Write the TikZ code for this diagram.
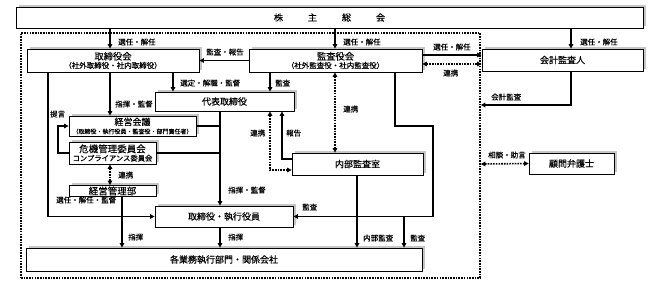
\documentclass[tikz,border=0pt]{standalone}
\usepackage{fontspec}
\setmainfont{Noto Sans CJK JP}[FakeBold=0.35]
\usetikzlibrary{arrows.meta,shadows}
\begin{document}
\begin{tikzpicture}[x=1pt,y=-1pt,
  >={Triangle[length=4.5pt,width=4.5pt]},
  box/.style={draw=black, line width=0.8pt, fill=white, inner sep=0pt, align=center,
    font=\fontsize{9}{10}\selectfont,
    drop shadow={shadow xshift=2.5pt, shadow yshift=2.5pt, fill=gray!45, opacity=1}},
  lab/.style={font=\fontsize{7.5}{8}\selectfont, inner sep=0pt, anchor=west},
  conn/.style={line width=1.6pt},
  arr/.style={conn, ->},
  dots/.style={line width=1.6pt, dash pattern=on 1.6pt off 1.1pt}
]
\useasboundingbox (0,0) rectangle (660,284);

% dotted frame
\node[draw, dots, minimum width=459pt, minimum height=245pt, inner sep=0pt] (frame) at (250.5,155.5) {};

% boxes
\node[box, minimum width=627pt, minimum height=21pt] (kabu) at (329.5,17.5)
  {株\hspace{25pt}主\hspace{25pt}総\hspace{25pt}会};
\node[box, minimum width=172pt, minimum height=23pt] (tori) at (113,60.5)
  {\fontsize{9.3}{10}\selectfont 取締役会\\[-1.5pt]{\fontsize{7.5}{8}\selectfont （社外取締役・社内取締役）}};
\node[box, minimum width=173pt, minimum height=23pt] (kansa) at (335.5,60.5)
  {\fontsize{9.3}{10}\selectfont 監査役会\\[-1.5pt]{\fontsize{7.5}{8}\selectfont （社外監査役・社内監査役）}};
\node[box, minimum width=161pt, minimum height=22pt] (kaikei) at (562.5,60) {会計監査人};
\node[box, minimum width=139pt, minimum height=19pt] (daihyo) at (224.5,101.5) {代表取締役};
\node[box, minimum width=127pt, minimum height=20pt] (keiei) at (132.5,126)
  {経営会議\\[-1.5pt]{\fontsize{6}{7}\selectfont （取締役・執行役員・監査役・部門責任者）}};
\node[box, minimum width=87pt, minimum height=22pt] (kiki) at (112.5,153)
  {\fontsize{9.5}{10}\selectfont 危機管理委員会\\[-1.5pt]{\fontsize{7.3}{8}\selectfont コンプライアンス委員会}};
\node[box, minimum width=87pt, minimum height=11pt] (kanri) at (112.5,191) {\fontsize{9.5}{10}\selectfont 経営管理部};
\node[box, minimum width=131pt, minimum height=22pt] (naibu) at (357.5,164) {内部監査室};
\node[box, minimum width=85pt, minimum height=21pt] (komon) at (571.5,163.5) {顧問弁護士};
\node[box, minimum width=138pt, minimum height=21pt] (shikko) at (224,216.5) {取締役・執行役員};
\node[box, minimum width=396pt, minimum height=23pt] (kaku) at (224,259.5) {各業務執行部門・関係会社};

% shareholders
\draw[arr] (kabu.south -| 110,0) -- (tori.north -| 110,0);
\node[lab] (l1) at (118,42) {選任・解任};
\draw[arr] (kabu.south -| 335,0) -- (kansa.north -| 335,0);
\node[lab] (l2) at (343,42) {選任・解任};
\draw[arr] (kabu.south -| 571,0) -- (kaikei.north -| 571,0);
\node[lab] (l3) at (580,42) {選任・解任};

% audit board relations
\draw[arr] (kansa.west) -- (tori.east);
\node[lab] (l4) at (206,52) {監査・報告};
\draw[arr] (kansa.east |- 0,55) -- (kaikei.west |- 0,55);
\node[lab] (l5) at (433,47) {選任・解任};
\draw[dots, <->] (kansa.east |- 0,64) -- (kaikei.west |- 0,64);
\node[lab] (l6) at (443,73) {連携};
\draw[arr] (kaikei.south -| 571,0) -- (571,105) -- (frame.east |- 0,105);
\node[lab] (l7) at (491,97) {会計監査};

% to representative director
\draw[arr] (tori.south -| 173,0) -- (daihyo.north -| 173,0);
\node[lab] (l8) at (180,83) {選定・解職・監督};
\draw[arr] (kansa.south -| 270,0) -- (daihyo.north -| 270,0);
\node[lab] (l9) at (275,83) {監査};

% board to management meeting
\draw[arr] (tori.south -| 110,0) -- (keiei.north -| 110,0);
\node[lab] (l10) at (115,104) {指揮・監督};

% representative director down
\draw[arr] (daihyo.south -| 220,0) -- (shikko.north -| 220,0);
\draw[conn] (keiei.east) -- (keiei.east -| 220,0);
\draw[conn] (kiki.east) -- (kiki.east -| 220,0);
\node[lab] (l11) at (228,190) {指揮・監督};

% proposal loop
\draw[arr] (kiki.west) -- (58,153) -- (58,126) -- (keiei.west);
\node[lab] (l12) at (50,114) {提言};

% risk committee - management dept
\draw[dots, <->] (kiki.south -| 110,0) -- (kanri.north -| 110,0);
\node[lab] (l13) at (118,175) {連携};

\draw[arr] (kanri.south -| 122,0) -- (kaku.north -| 122,0);
\node[lab] (l14) at (128,237) {指揮};

% board to directors/officers
\draw[arr] (tori.south -| 48,0) -- (48,216.5) -- (shikko.west);
\node[lab] (l15) at (56,200) {選任・解任・監督};

\draw[arr] (shikko.south -| 220,0) -- (kaku.north -| 220,0);
\node[lab] (l16) at (228,237) {指揮};

% audit board audit line
\draw[arr] (kansa.south -| 395,0) -- (395,126) -- (433,126) -- (433,216.5) -- (shikko.east);
\node[lab] (l17) at (302,207) {監査};
\draw[arr] (404,216.5) -- (kaku.north -| 404,0);
\node[lab] (l18) at (410,238) {監査};

% internal audit
\draw[arr] (naibu.south -| 357,0) -- (kaku.north -| 357,0);
\node[lab] (l19) at (363,238) {内部監査};

\draw[dots, <->] (daihyo.south -| 270,0) -- (270,170) -- (naibu.west |- 0,170);
\node[lab] (l20) at (250,133) {連携};
\draw[arr] (naibu.west |- 0,159) -- (282,159) -- (daihyo.south -| 282,0);
\node[lab] (l21) at (286,133) {報告};

\draw[dots, <->] (kansa.south -| 335,0) -- (naibu.north -| 335,0);
\node[lab] (l22) at (343,109) {連携};

% lawyer
\draw[dots, <->] (frame.east |- 0,164) -- (komon.west);
\node[lab] (l23) at (488,155) {相談・助言};
\end{tikzpicture}
\end{document}
